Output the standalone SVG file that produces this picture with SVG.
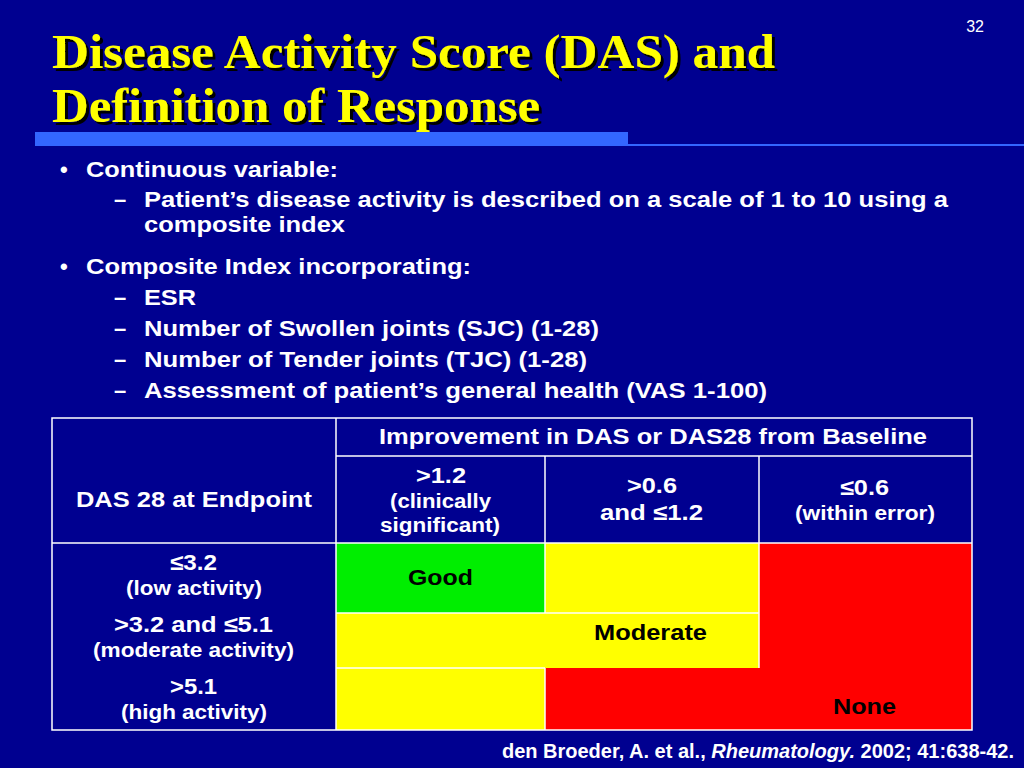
<svg xmlns="http://www.w3.org/2000/svg" width="1024" height="768" viewBox="0 0 1024 768">
<defs>
<filter id="sh" x="-5%" y="-20%" width="110%" height="140%"><feDropShadow dx="3" dy="3" stdDeviation="0" flood-color="#000"/></filter>
</defs>
<style>
.t{font-family:"Liberation Sans",Arial,sans-serif;font-weight:bold;fill:#fff;font-size:22px}
.s{font-size:20px}
.k{fill:#000}
.ti{font-family:"Liberation Serif","Times New Roman",serif;font-weight:bold;font-size:48px;fill:#ff0}
.c{text-anchor:middle}
text{lengthAdjust:spacingAndGlyphs}
</style>
<rect width="1024" height="768" fill="#000090"/>
<text x="984" y="32" font-family="Liberation Sans,Arial,sans-serif" font-size="16" fill="#fff" text-anchor="end">32</text>
<g class="ti" filter="url(#sh)">
<text x="52" y="68" textLength="723" lengthAdjust="spacingAndGlyphs">Disease Activity Score (DAS) and</text>
<text x="52" y="122" textLength="488" lengthAdjust="spacingAndGlyphs">Definition of Response</text>
</g>
<rect x="35" y="132" width="593" height="14" fill="#3366ff"/>
<rect x="628" y="144" width="396" height="2" fill="#3366ff"/>
<g class="t">
<text x="60" y="177">•</text><text x="86" y="177" textLength="252" lengthAdjust="spacingAndGlyphs">Continuous variable:</text>
<text x="114" y="207">–</text><text x="144" y="207" textLength="804" lengthAdjust="spacingAndGlyphs">Patient’s disease activity is described on a scale of 1 to 10 using a</text>
<text x="144" y="232" textLength="201" lengthAdjust="spacingAndGlyphs">composite index</text>
<text x="60" y="274">•</text><text x="86" y="274" textLength="385" lengthAdjust="spacingAndGlyphs">Composite Index incorporating:</text>
<text x="114" y="305">–</text><text x="144" y="305" textLength="52" lengthAdjust="spacingAndGlyphs">ESR</text>
<text x="114" y="336">–</text><text x="144" y="336" textLength="455" lengthAdjust="spacingAndGlyphs">Number of Swollen joints (SJC) (1-28)</text>
<text x="114" y="367">–</text><text x="144" y="367" textLength="443" lengthAdjust="spacingAndGlyphs">Number of Tender joints (TJC) (1-28)</text>
<text x="114" y="398">–</text><text x="144" y="398" textLength="623" lengthAdjust="spacingAndGlyphs">Assessment of patient’s general health (VAS 1-100)</text>
</g>
<g id="cells">
<rect x="336" y="543" width="209" height="70" fill="#00ee00"/>
<rect x="545" y="543" width="214" height="70" fill="#ffff00"/>
<rect x="759" y="543" width="213" height="187" fill="#ff0000"/>
<rect x="336" y="613" width="423" height="55" fill="#ffff00"/>
<rect x="336" y="668" width="209" height="62" fill="#ffff00"/>
<rect x="545" y="668" width="214" height="62" fill="#ff0000"/>
</g>
<g stroke="#fff" stroke-width="1.5" fill="none">
<rect x="52" y="418" width="920" height="312"/>
<line x1="336" y1="418" x2="336" y2="730"/>
<line x1="336" y1="456" x2="972" y2="456"/>
<line x1="52" y1="543" x2="972" y2="543"/>
<line x1="545" y1="456" x2="545" y2="543"/>
<line x1="759" y1="456" x2="759" y2="543"/>
<line x1="545" y1="543" x2="545" y2="613"/>
<line x1="545" y1="668" x2="545" y2="730"/>
<line x1="759" y1="543" x2="759" y2="668"/>
<line x1="336" y1="613" x2="759" y2="613"/>
<line x1="336" y1="668" x2="545" y2="668"/>
</g>
<g class="t">
<text x="379" y="444" textLength="548" lengthAdjust="spacingAndGlyphs">Improvement in DAS or DAS28 from Baseline</text>
<text x="76" y="507" textLength="236" lengthAdjust="spacingAndGlyphs">DAS 28 at Endpoint</text>
<text x="416" y="483" textLength="50" lengthAdjust="spacingAndGlyphs">&gt;1.2</text>
<text class="s" x="390" y="508" textLength="101" lengthAdjust="spacingAndGlyphs">(clinically</text>
<text class="s" x="380" y="532" textLength="120" lengthAdjust="spacingAndGlyphs">significant)</text>
<text x="627" y="493" textLength="50" lengthAdjust="spacingAndGlyphs">&gt;0.6</text>
<text x="600" y="520" textLength="103" lengthAdjust="spacingAndGlyphs">and ≤1.2</text>
<text x="840" y="495" textLength="49" lengthAdjust="spacingAndGlyphs">≤0.6</text>
<text class="s" x="795" y="520" textLength="140" lengthAdjust="spacingAndGlyphs">(within error)</text>
<text x="170" y="570" textLength="47" lengthAdjust="spacingAndGlyphs">≤3.2</text>
<text class="s" x="126" y="595" textLength="136" lengthAdjust="spacingAndGlyphs">(low activity)</text>
<text x="114" y="632" textLength="159" lengthAdjust="spacingAndGlyphs">&gt;3.2 and ≤5.1</text>
<text class="s" x="93" y="657" textLength="201" lengthAdjust="spacingAndGlyphs">(moderate activity)</text>
<text x="170" y="694" textLength="47" lengthAdjust="spacingAndGlyphs">&gt;5.1</text>
<text class="s" x="121" y="719" textLength="146" lengthAdjust="spacingAndGlyphs">(high activity)</text>
<text class="k" x="408" y="585" textLength="65" lengthAdjust="spacingAndGlyphs">Good</text>
<text class="k" x="594" y="640" textLength="113" lengthAdjust="spacingAndGlyphs">Moderate</text>
<text class="k" x="833" y="714" textLength="63" lengthAdjust="spacingAndGlyphs">None</text>
<text x="1014" y="758" text-anchor="end" class="s">den Broeder, A. et al., <tspan font-style="italic">Rheumatology.</tspan> 2002; 41:638-42.</text>
</g>
</svg>
